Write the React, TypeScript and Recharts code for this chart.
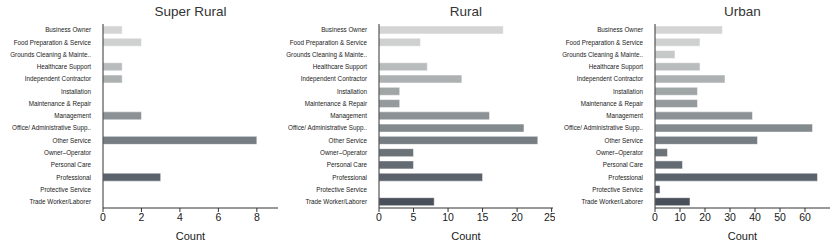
import { BarChart, Bar, XAxis, YAxis, Cell } from "recharts";

const categories = [
  "Business Owner",
  "Food Preparation & Service",
  "Grounds Cleaning & Mainte..",
  "Healthcare Support",
  "Independent Contractor",
  "Installation",
  "Maintenance & Repair",
  "Management",
  "Office/ Administrative Supp..",
  "Other Service",
  "Owner–Operator",
  "Personal Care",
  "Professional",
  "Protective Service",
  "Trade Worker/Laborer",
];

const superRural = [1, 2, 0, 1, 1, 0, 0, 2, 0, 8, 0, 0, 3, 0, 0];
const rural = [18, 6, 0, 7, 12, 3, 3, 16, 21, 23, 5, 5, 15, 0, 8];
const urban = [27, 18, 8, 18, 28, 17, 17, 39, 63, 41, 5, 11, 65, 2, 14];

const superRuralTicks = [0, 2, 4, 6, 8];
const ruralTicks = [0, 5, 10, 15, 20, 25];
const urbanTicks = [0, 10, 20, 30, 40, 50, 60];

const colors = [
  "#d4d4d4",
  "#cfd0d0",
  "#c7c9c9",
  "#b9bcbc",
  "#aeb1b2",
  "#a0a5a6",
  "#959b9d",
  "#8b9194",
  "#838a8e",
  "#767e83",
  "#6b7379",
  "#646b73",
  "#5b626b",
  "#525963",
  "#4a505b",
];

const font = "Liberation Sans, Arial, sans-serif";
const axisColor = "#333";

// plain svg text so long category names don't get wrapped
function CategoryTick(props: any) {
  const { x, y, payload } = props;
  return (
    <text
      x={x - 4}
      y={y}
      dy="0.35em"
      textAnchor="end"
      style={{ fontSize: 6.3, fontFamily: font, fill: "#1a1a1a" }}
    >
      {payload.value}
    </text>
  );
}

type PanelProps = {
  title: string;
  values: number[];
  ticks: number[];
  max: number;
  left: number;
  width: number;
  yWidth: number;
  right: number;
};

function Panel({ title, values, ticks, max, left, width, yWidth, right }: PanelProps) {
  const data = categories.map((name, i) => ({ name, value: values[i] }));
  const plotWidth = width - yWidth - right;

  return (
    <div style={{ position: "absolute", left, top: 0, width, height: 247 }}>
      <div
        style={{
          position: "absolute",
          top: 4,
          left: yWidth,
          width: plotWidth,
          textAlign: "center",
          fontFamily: font,
          fontSize: 13.5,
          lineHeight: "16px",
          color: "#333",
        }}
      >
        {title}
      </div>
      <BarChart
        width={width}
        height={247}
        data={data}
        layout="vertical"
        barCategoryGap="16%"
        margin={{ top: 24, right, bottom: 0, left: 0 }}
      >
        <XAxis
          type="number"
          domain={[0, max]}
          ticks={ticks}
          allowDataOverflow
          height={39}
          tick={{ fontSize: 10.5, fill: "#1a1a1a", fontFamily: font }}
          tickSize={4}
          tickMargin={2}
          stroke={axisColor}
          label={{
            value: "Count",
            position: "insideBottom",
            offset: 7,
            fontSize: 11,
            fill: "#1a1a1a",
            fontFamily: font,
          }}
        />
        <YAxis
          type="category"
          dataKey="name"
          width={yWidth}
          interval={0}
          tickLine={false}
          stroke={axisColor}
          tick={<CategoryTick />}
        />
        <Bar dataKey="value" isAnimationActive={false} stroke="#fff" strokeWidth={0.5}>
          {data.map((d, i) => (
            <Cell key={d.name} fill={colors[i]} />
          ))}
        </Bar>
      </BarChart>
    </div>
  );
}

export default function App() {
  return (
    <div
      style={{
        position: "absolute",
        left: 0,
        top: 0,
        width: 830,
        height: 247,
        background: "#fff",
      }}
    >
      <Panel title="Super Rural" values={superRural} ticks={superRuralTicks} max={9.1} left={0} width={278} yWidth={103} right={0} />
      <Panel title="Rural" values={rural} ticks={ruralTicks} max={25.2} left={278} width={277} yWidth={101} right={2} />
      <Panel title="Urban" values={urban} ticks={urbanTicks} max={70} left={555} width={275} yWidth={100} right={0} />
    </div>
  );
}
